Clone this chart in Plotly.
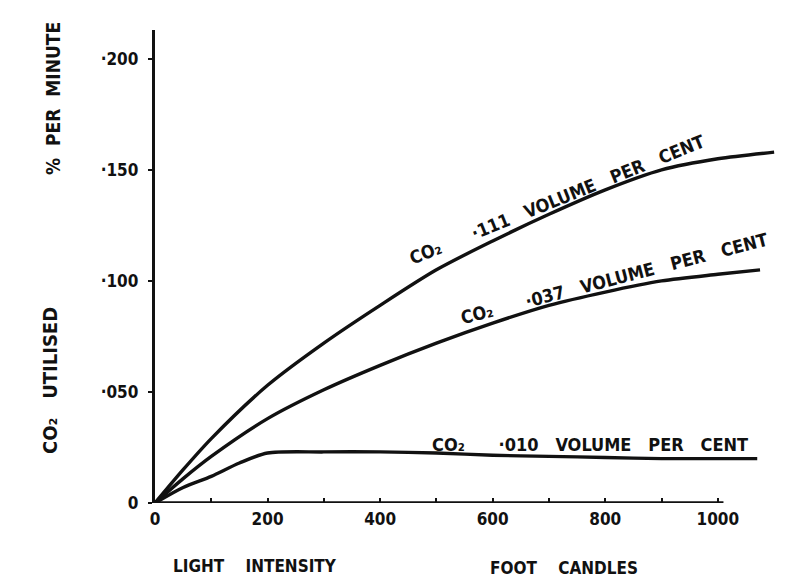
import plotly.graph_objects as go

# ---- data ----
x_111 = [0, 50, 100, 200, 300, 400, 500, 600, 700, 800, 900, 1000, 1100]
y_111 = [0, 0.015, 0.029, 0.053, 0.072, 0.089, 0.105, 0.118, 0.130, 0.141, 0.150, 0.155, 0.158]

x_037 = [0, 50, 100, 200, 300, 400, 500, 600, 700, 800, 900, 1000, 1075]
y_037 = [0, 0.011, 0.021, 0.038, 0.051, 0.062, 0.072, 0.081, 0.089, 0.095, 0.100, 0.103, 0.105]

x_010 = [0, 50, 100, 150, 200, 300, 400, 500, 600, 700, 800, 900, 1000, 1070]
y_010 = [0, 0.007, 0.012, 0.018, 0.0225, 0.023, 0.023, 0.0225, 0.0215, 0.021, 0.0205, 0.020, 0.020, 0.020]

series_labels = ["CO₂      ·111   VOLUME   PER   CENT",
                 "CO₂      ·037   VOLUME   PER   CENT",
                 "CO₂      ·010   VOLUME   PER   CENT"]

y_tick_vals = [0, 0.05, 0.10, 0.15, 0.20]
y_tick_text = ["0", "·050", "·100", "·150", "·200"]
x_tick_vals = [0, 100, 200, 300, 400, 500, 600, 700, 800, 900, 1000]
x_tick_text = ["0", "", "200", "", "400", "", "600", "", "800", "", "1000"]

FONT = "DejaVu Sans Condensed, Liberation Sans Narrow, DejaVu Sans, sans-serif"
INK = "#111111"

# plot-area geometry in pixels (used only to place annotations)
L, R, T, B = 147, 783, 22, 495
def px(xp):
    return (xp - L) / (R - L)
def py(yp):
    return (B - yp) / (B - T)

fig = go.Figure()
for xs, ys in [(x_111, y_111), (x_037, y_037), (x_010, y_010)]:
    fig.add_trace(go.Scatter(x=xs, y=ys, mode="lines",
                             line=dict(color=INK, width=3.4, shape="spline", smoothing=0.8),
                             showlegend=False, hoverinfo="skip"))

# x-axis baseline (drawn only up to ~1010 like the original)
fig.add_shape(type="line", xref="x", yref="y", x0=0, y0=0, x1=1010, y1=0,
              line=dict(color=INK, width=3.4))

def note(text, x, y, size, angle=0):
    fig.add_annotation(x=px(x), y=py(y), xref="paper", yref="paper",
                       xanchor="center", yanchor="middle",
                       text="<b>" + text + "</b>", showarrow=False, textangle=angle,
                       font=dict(family=FONT, size=size, color=INK))

label_pos = [(549, 192, -22), (606, 270, -14.5), (582, 436, 0)]
for txt, (lx, ly, ang) in zip(series_labels, label_pos):
    note(txt, lx, ly, 18, ang)

# axis titles
note("LIGHT    INTENSITY", 247, 558, 17)
note("FOOT    CANDLES", 556, 560, 17)
note("CO₂   UTILISED", 42, 373, 20, -90)
note("%  PER  MINUTE", 45, 91, 19, -90)

fig.update_layout(
    width=786, height=582,
    margin=dict(l=L, r=786 - R, t=T, b=582 - B),
    paper_bgcolor="white", plot_bgcolor="white",
    font=dict(family=FONT, color=INK),
    xaxis=dict(range=[0, 1130], showgrid=False, zeroline=False, showline=False,
               tickmode="array", tickvals=x_tick_vals, ticktext=x_tick_text,
               ticks="inside", ticklen=5, tickwidth=2, tickcolor=INK,
               ticklabelstandoff=4,
               tickfont=dict(family=FONT, size=17, color=INK, weight="bold")),
    yaxis=dict(range=[0, 0.213], showgrid=False, zeroline=False,
               showline=True, linecolor=INK, linewidth=3.4,
               tickmode="array", tickvals=y_tick_vals, ticktext=y_tick_text,
               ticks="outside", ticklen=4, tickwidth=2, tickcolor=INK,
               ticklabelstandoff=6,
               tickfont=dict(family=FONT, size=17, color=INK, weight="bold")),
)

fig.write_html("out.html")
